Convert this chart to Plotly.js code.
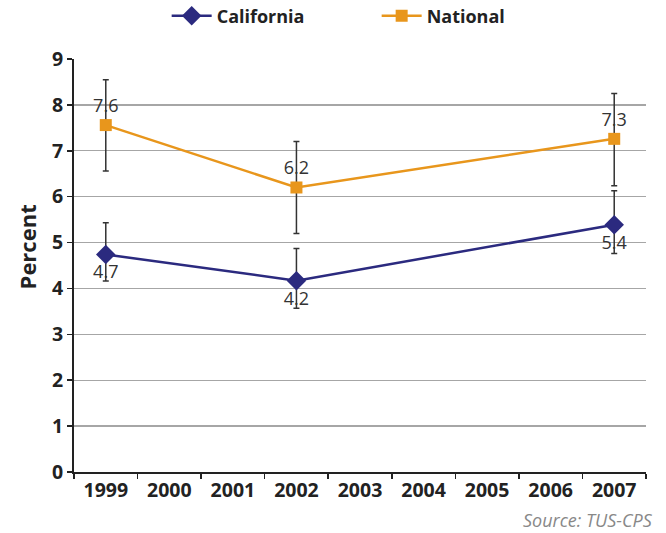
<!DOCTYPE html>
<html>
<head>
<meta charset="utf-8">
<script src="https://cdn.plot.ly/plotly-3.0.1.min.js"></script>
<style>html,body{margin:0;padding:0;background:#fff;}#chart{width:666px;height:533px;}</style>
</head>
<body>
<div id="chart"></div>
<script>
var years = ['1999','2000','2001','2002','2003','2004','2005','2006','2007'];
var dataYears = ['1999','2002','2007'];
var californiaValues = [4.74, 4.17, 5.39];
var californiaLabels = ['4.7','4.2','5.4'];
var californiaErrPlus = [0.69, 0.70, 0.74];
var californiaErrMinus = [0.58, 0.60, 0.63];
var nationalValues = [7.56, 6.20, 7.26];
var nationalLabels = ['7.6','6.2','7.3'];
var nationalErrPlus = [0.99, 1.0, 0.99];
var nationalErrMinus = [1.0, 1.0, 1.02];
var yTicks = [0,1,2,3,4,5,6,7,8,9];

var FONT = '"Open Sans", "DejaVu Sans", sans-serif';

var traces = [
  {
    x: dataYears, y: californiaValues, name: 'California',
    type: 'scatter', mode: 'lines+markers+text',
    text: californiaLabels, textposition: 'bottom center',
    textfont: {family: FONT, size: 18, color: '#333'},
    line: {color: '#2b2a7f', width: 2.5},
    marker: {symbol: 'diamond', size: 15, color: '#2b2a7f'},
    error_y: {type: 'data', symmetric: false, array: californiaErrPlus, arrayminus: californiaErrMinus,
              color: '#333', thickness: 1.5, width: 3}
  },
  {
    x: dataYears, y: nationalValues, name: 'National',
    type: 'scatter', mode: 'lines+markers+text',
    text: nationalLabels, textposition: 'top center',
    textfont: {family: FONT, size: 18, color: '#333'},
    line: {color: '#e8961c', width: 2.5},
    marker: {symbol: 'square', size: 12, color: '#e8961c'},
    error_y: {type: 'data', symmetric: false, array: nationalErrPlus, arrayminus: nationalErrMinus,
              color: '#333', thickness: 1.5, width: 3}
  }
];

var layout = {
  width: 666, height: 533,
  margin: {l: 74, r: 20, t: 59, b: 61},
  paper_bgcolor: '#fff', plot_bgcolor: '#fff',
  showlegend: true,
  legend: {orientation: 'h', x: 0.162, xanchor: 'left', y: 0.97, yanchor: 'middle',
           yref: 'container', font: {family: FONT, size: 18, color: '#222', weight: 'bold'},
           itemwidth: 40, entrywidth: 155, entrywidthmode: 'pixels'},
  xaxis: {
    type: 'category', categoryorder: 'array', categoryarray: years,
    tickvals: years, ticktext: years, range: [-0.5, 8.5],
    tickson: 'boundaries', ticks: 'outside', ticklen: 5, tickwidth: 1.5, tickcolor: '#222',
    showline: true, linecolor: '#222', linewidth: 2,
    showgrid: false, zeroline: false,
    tickfont: {family: FONT, size: 19.5, color: '#222', weight: 'bold'}
  },
  yaxis: {
    range: [0, 9], tickvals: yTicks, ticks: 'outside', ticklen: 5, tickwidth: 1.5, tickcolor: '#222',
    showline: true, linecolor: '#222', linewidth: 2,
    showgrid: true, gridcolor: '#a6a6a6', gridwidth: 1.3, zeroline: false,
    tickfont: {family: FONT, size: 19.5, color: '#222', weight: 'bold'}
  },
  annotations: [
    {text: 'Percent', xref: 'paper', yref: 'paper', x: -0.083, y: 0.545,
     xanchor: 'center', yanchor: 'middle', textangle: -90, showarrow: false,
     font: {family: FONT, size: 22, color: '#222', weight: 'bold'}},
    {text: 'Source: TUS-CPS', xref: 'paper', yref: 'paper', x: 1.015, y: -0.116,
     xanchor: 'right', yanchor: 'middle', showarrow: false,
     font: {family: FONT, size: 18, color: '#888', style: 'italic'}}
  ]
};

Plotly.newPlot('chart', traces, layout, {displayModeBar: false, staticPlot: true});
</script>
</body>
</html>
